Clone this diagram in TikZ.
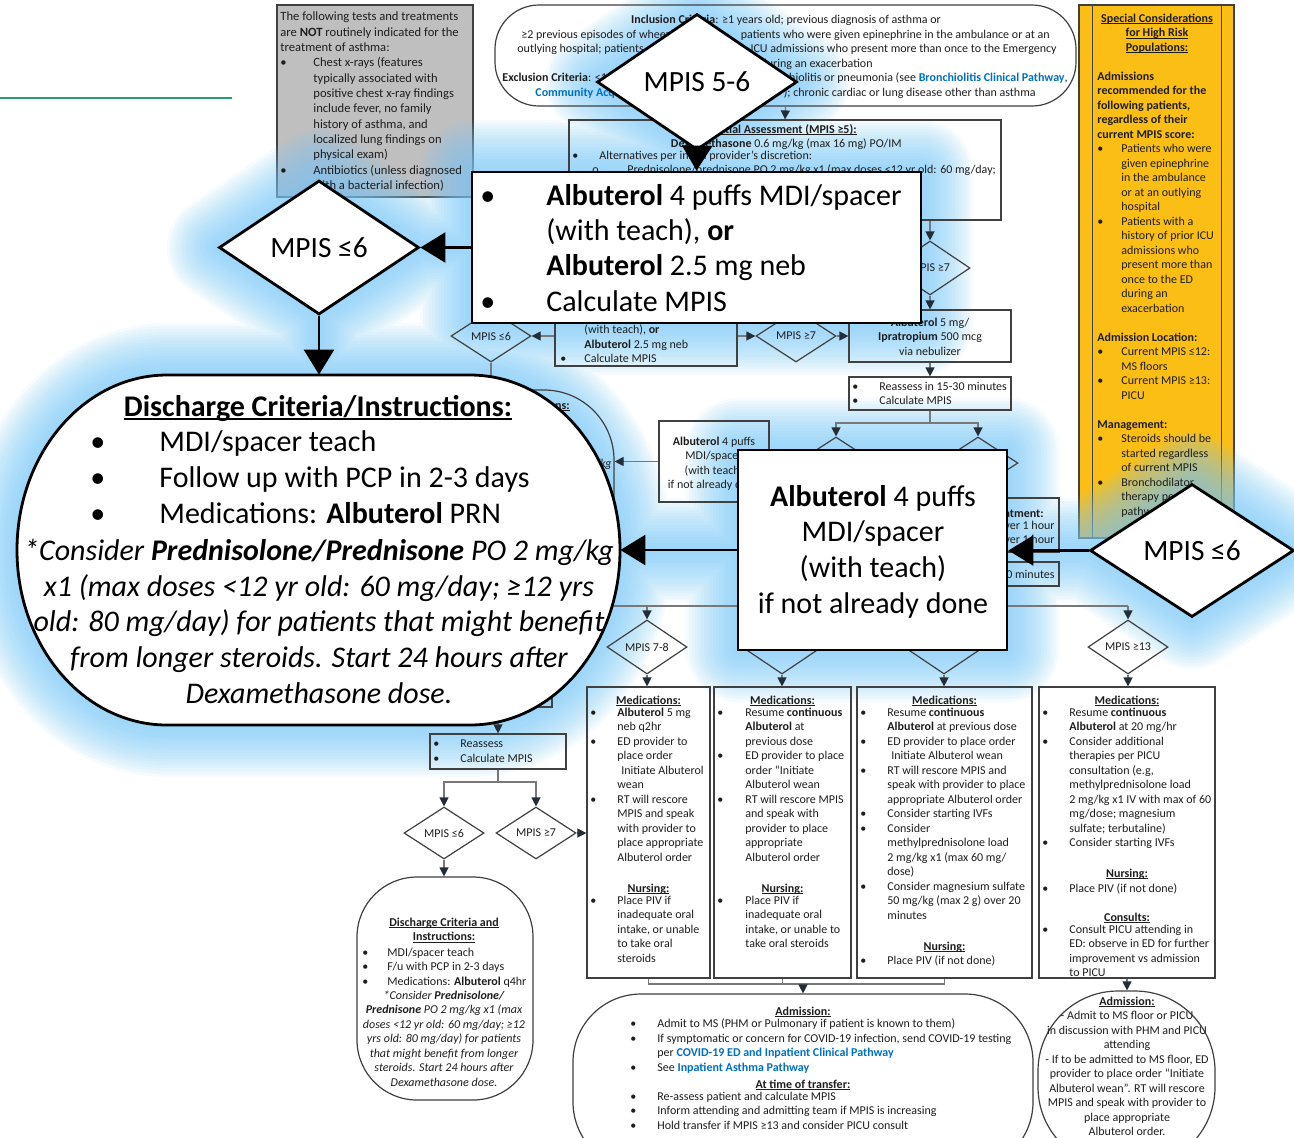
\documentclass[tikz,border=0pt]{standalone}
\usepackage{fontspec}
\setmainfont{Carlito}
\usetikzlibrary{arrows.meta,shapes.geometric}

\definecolor{txt}{RGB}{30,30,30}
\definecolor{linkc}{RGB}{0,112,192}
\definecolor{yel}{RGB}{251,190,20}
\definecolor{grayfill}{RGB}{191,191,191}
\definecolor{edgec}{RGB}{64,64,64}
\definecolor{lc}{RGB}{120,120,120}
\definecolor{ac}{RGB}{35,45,55}
\definecolor{glowc}{RGB}{125,205,250}
\definecolor{grn}{RGB}{40,160,110}

\newlength\bw
\setlength\bw{13.5pt}
\newcommand\bul{\makebox[\bw][l]{\textbullet}}
\newcommand\cont{\hspace*{\bw}}
\newsavebox\ubox
\newcommand\undl[1]{\sbox\ubox{#1}\rlap{\rule[-0.13em]{\wd\ubox}{0.065em}}\usebox\ubox}

% outline of the large discharge terminal
\def\dispath{(167,375) -- (470,375)
  arc[start angle=90,end angle=0,x radius=75pt,y radius=87.5pt]
  arc[start angle=0,end angle=-90,x radius=75pt,y radius=87.5pt] -- (167,725)
  arc[start angle=270,end angle=180,x radius=75pt,y radius=87.5pt]
  arc[start angle=180,end angle=90,x radius=75pt,y radius=87.5pt] -- cycle}
% everything that carries the blue halo
\def\glowpath{(597,82) -- (697,14) -- (797,82) -- (697,150) -- cycle
  (472,172) rectangle (921,323)
  (219,247.5) -- (319,180.5) -- (419,247.5) -- (319,314.5) -- cycle
  \dispath
  (738,450) rectangle (1007,650)
  (1090,550.5) -- (1192,484) -- (1294,550.5) -- (1192,617) -- cycle
  (697,150) -- (697,172) (419,247.5) -- (472,247.5) (319,314.5) -- (319,375)
  (620,550) -- (738,550) (1007,550) -- (1090,550)}

\tikzset{
  wh/.style 2 args={minimum width=#1*0.5pt, minimum height=#2*0.5pt},
  bw/.code={\setlength\bw{#1}},
  sbox/.style={draw=edgec, line width=0.6pt, inner sep=0pt},
  sdia/.style={diamond, draw=edgec, line width=0.6pt, inner sep=0pt,
    font=\fontsize{6}{7.25}\selectfont, text=txt},
  stxt/.style={inner sep=0pt, font=\fontsize{6}{7.25}\selectfont, text=txt,
    execute at begin node=\strut, yshift=-1.25pt},
  tl/.style={stxt, anchor=north west, align=left},
  tc/.style={stxt, anchor=north, align=center},
  tr/.style={stxt, anchor=north east, align=right},
  itx/.style={font=\fontsize{6}{7.25}\selectfont\itshape},
  gtl/.style={tl, font=\fontsize{6.3}{7.68}\selectfont},
  conn/.style={draw=lc, line width=0.6pt, -{Triangle[length=4.5pt, width=4.5pt, color=ac]}},
  plain/.style={draw=lc, line width=0.6pt},
  bigbox/.style={draw=black, line width=1.4pt, fill=white, inner sep=0pt},
  bigdia/.style={diamond, draw=black, line width=1.4pt, fill=white, inner sep=0pt,
    font=\fontsize{14.7}{18}\selectfont},
  btxt/.style={inner sep=0pt, font=\fontsize{15}{18}\selectfont, execute at begin node=\strut,
    yshift=-3.5pt},
  btl/.style={btxt, anchor=north west, align=left},
  btc/.style={btxt, anchor=north, align=center},
  bigarrow/.style={draw=black, line width=1.2pt, -{Triangle[length=12.5pt, width=15pt]}},
}

\begin{document}
\begin{tikzpicture}[x=0.5pt, y=-0.5pt]
\useasboundingbox (0,0) rectangle (1294,1137);
\clip (0,0) rectangle (1294,1137);
\fill[white] (0,0) rectangle (1294,1137);

% filled side panels
\node[draw=edgec, line width=0.6pt, fill=grayfill, inner sep=0pt, wh={196}{192}] (nottx) at (375,101) {};
\node[draw=edgec, line width=0.6pt, fill=yel, inner sep=0pt, wh={155}{533}] (spec) at (1156.5,271.5) {};
\draw[edgec, line width=0.6pt] ([xshift=7pt]spec.north west) -- ([xshift=7pt]spec.south west);
\draw[edgec, line width=0.6pt] ([xshift=-6.5pt]spec.north east) -- ([xshift=-6.5pt]spec.south east);

% halo
\foreach \w in {52,49,46,43,40,37,34,31,28,25,22,19,16,13,10,7,4}{
  \path[fill=glowc, draw=glowc, line width=\w pt, line join=round, opacity=0.07] \glowpath;
}

\coordinate (g1) at (0,98);
\coordinate (g2) at (232,98);
\draw[grn, line width=0.8pt] (g1) -- (g2);

% ---------- pathway boxes ----------
\node[sbox, rounded corners=22pt, wh={581}{101}] (incl) at (785.5,55.5) {};
\node[sbox, wh={432}{100}] (init) at (785,170) {};
\node[sdia, wh={80}{54}] (d7a) at (930,268) {MPIS ≥7};
\node[sbox, wh={162}{52}] (albip) at (930,336) {};
\node[sbox, wh={162}{33}] (reas1) at (930,393.5) {};
\node[sbox, wh={182}{61}] (alb1) at (646,335.5) {};
\node[sdia, wh={80}{52}] (d6a) at (491,336) {MPIS ≤6};
\node[sdia, wh={80}{52}] (d7b) at (796,336) {MPIS ≥7};
\node[sdia, wh={80}{52}] (d6b) at (836,463) {};
\node[sdia, wh={80}{52}] (d7c) at (978,463) {};
\node[sbox, wh={110}{81}] (alb2) at (714,461.5) {};
\node[sbox, rounded corners=35pt, wh={234}{230}] (dis1) at (497,505) {};
\node[sbox, wh={162}{54}] (trt) at (978,525) {};
\node[sbox, wh={162}{24}] (reas3) at (978,574) {};
\node[sbox, wh={122}{67}] (tx1) at (491,673.5) {};
\node[sbox, wh={136}{35}] (reas2) at (498,751.5) {};
\node[sdia, wh={80}{52}] (d6c) at (444,833) {MPIS ≤6};
\node[sdia, wh={80}{52}] (d7d) at (536,833) {MPIS ≥7};
\node[sbox, rounded corners=30pt, wh={176}{223}] (dis2) at (445,988.5) {};
\node[sdia, wh={80}{54}] (d78) at (647,647) {MPIS 7-8};
\node[sdia, wh={80}{54}] (dm2) at (782,647) {};
\node[sdia, wh={80}{54}] (dm3) at (944,647) {};
\node[sdia, wh={80}{54}] (d13) at (1128,647) {MPIS ≥13};
\node[sbox, wh={123}{291}] (m1) at (648.5,832.5) {};
\node[sbox, wh={137}{291}] (m2) at (782.5,832.5) {};
\node[sbox, wh={175}{291}] (m3) at (944.5,832.5) {};
\node[sbox, wh={176}{291}] (m4) at (1127,832.5) {};
\node[sbox, rounded corners=34pt, wh={460}{176}] (adm1) at (803,1082) {};
\node[sbox, rounded corners=40pt, wh={177}{176}] (adm2) at (1126.5,1079) {};

% ---------- connectors ----------
\draw[conn] (incl.south) -- (init.north);
\draw[conn] (d7a.north |- init.south) -- (d7a.north);
\draw[conn] (d7a.south) -- (albip.north);
\draw[conn] (alb1.west |- d6a.east) -- (d6a.east);
\draw[conn] (alb1.east |- d7b.west) -- (d7b.west);
\draw[conn] (d7b.east) -- (albip.west);
\draw[conn] (albip.south) -- (reas1.north);
\coordinate (s1) at (930,423);
\draw[plain] (reas1.south) -- (s1);
\draw[conn] (s1) -| (d6b.north);
\draw[conn] (s1) -| (d7c.north);
\draw[conn] (d6b.west) -- (alb2.east |- d6b.west);
\draw[conn] (alb2.west) -- (alb2.west -| dis1.east);
\draw[conn] (d6a.south) -- (d6a.south |- dis1.north);
\draw[conn] (d7c.south) -- (trt.north);
\draw[conn] (trt.south) -- (reas3.north);
\coordinate (h1) at (560,606);
\coordinate (h2) at (1128,606);
\draw[plain] (reas3.south) -- (reas3.south |- h1);
\draw[plain] (h1) -- (h2);
\foreach \n in {d78,dm2,dm3,d13}{\draw[conn] (\n.north |- h1) -- (\n.north);}
\draw[conn] (d78.south) -- (d78.south |- m1.north);
\draw[conn] (dm2.south) -- (dm2.south |- m2.north);
\draw[conn] (dm3.south) -- (dm3.south |- m3.north);
\draw[conn] (d13.south) -- (d13.south |- m4.north);
\draw[conn] (reas2.north |- tx1.south) -- (reas2.north);
\coordinate (s2) at (498,782);
\draw[plain] (reas2.south) -- (s2);
\draw[conn] (s2) -| (d6c.north);
\draw[conn] (s2) -| (d7d.north);
\draw[conn] (d6c.south) -- (d6c.south |- dis2.north);
\draw[conn] (d7d.east) -- (d7d.east -| m1.west);
\coordinate (j1) at (803,984);
\draw[plain] (m1.south) -- (m1.south |- j1) -- (m3.south |- j1) -- (m3.south);
\draw[plain] (m2.south) -- (m2.south |- j1);
\draw[conn] (j1) -- (adm1.north);
\draw[conn] (m4.south) -- (m4.south |- adm2.north);

% ---------- texts ----------
\node[gtl, bw=16.5pt] (tgray) at (280,9) {The following tests and treatments\\
are \textbf{NOT} routinely indicated for the\\
treatment of asthma:\\
\bul Chest x-rays (features\\
\cont typically associated with\\
\cont positive chest x-ray findings\\
\cont include fever, no family\\
\cont history of asthma, and\\
\cont localized lung findings on\\
\cont physical exam)\\
\bul Antibiotics (unless diagnosed\\
\cont with a bacterial infection)};

\node[tc] (ti1) at (786,10) {\textbf{Inclusion Criteria}: ≥1 years old; previous diagnosis of asthma or};
\node[tl] (ti2) at (521,25) {≥2 previous episodes of wheezing;};
\node[tr] (ti3) at (1050,25) {patients who were given epinephrine in the ambulance or at an};
\node[tl] (ti4) at (517,39) {outlying hospital; patients};
\node[tr] (ti5) at (1057,39) {ICU admissions who present more than once to the Emergency};
\node[tr] (ti6) at (873,54) {Department during an exacerbation};
\node[tl] (ti7) at (502,68) {\textbf{Exclusion Criteria}: <1 year old};
\node[tr] (ti8) at (1068,68) {bronchiolitis or pneumonia (see \textcolor{linkc}{\textbf{Bronchiolitis Clinical Pathway}},};
\node[tl] (ti9) at (535,83) {\textcolor{linkc}{\textbf{Community Acquired}}};
\node[tr] (ti10) at (1036,83) {); chronic cardiac or lung disease other than asthma};

\node[tr] (ta1) at (857,120) {\undl{\textbf{Initial Assessment (MPIS ≥5):}}};
\node[tr] (ta2) at (902,134) {\textbf{Dexamethasone} 0.6 mg/kg (max 16 mg) PO/IM};
\node[tl] (ta3) at (572,148) {\bul Alternatives per initial provider’s discretion:\\
\makebox[27.5pt][l]{\hspace{10pt}o}Prednisolone/prednisone PO 2 mg/kg x1 (max doses <12 yr old: 60 mg/day;};

\node[tl, bw=12pt] (tb1) at (560,322) {\cont (with teach), \textbf{or}\\
\cont\textbf{Albuterol} 2.5 mg neb\\
\bul Calculate MPIS};
\node[tc] (tb2) at (930,315) {\textbf{Albuterol} 5 mg/\\ \textbf{Ipratropium} 500 mcg\\ via nebulizer};
\node[tl] (tb3) at (852,379) {\bul Reassess in 15-30 minutes\\ \bul Calculate MPIS};
\node[tc] (tb4) at (714,434) {\textbf{Albuterol} 4 puffs\\ MDI/spacer\\ (with teach)\\ if not already done};
\node[tr] (tb5) at (1044,504) {\textbf{Treatment:}};
\node[tr] (tb6) at (1055,518) {over 1 hour\\ over 1 hour};
\node[tr] (tb7) at (1055,565) {15-30 minutes};
\node[tr] (tb8) at (570,396) {\undl{\textbf{Instructions:}}};
\node[tr, itx] (tb9) at (612,454) {PO 2 mg/kg};
\node[tl] (tb10) at (433,737) {\bul Reassess\\ \bul Calculate MPIS};

% medications column 1
\node[tc] (tm1a) at (648.5,691) {\undl{\textbf{Medications:}}};
\node[tl] (tm1b) at (590,705) {\bul\textbf{Albuterol} 5 mg\\
\cont neb q2hr\\
\bul ED provider to\\
\cont place order\\
\cont\hspace{2pt}Initiate Albuterol\\
\cont wean\\
\bul RT will rescore\\
\cont MPIS and speak\\
\cont with provider to\\
\cont place appropriate\\
\cont Albuterol order};
\node[tc] (tm1c) at (648.5,879) {\undl{\textbf{Nursing:}}};
\node[tl] (tm1d) at (590,893) {\bul Place PIV if\\ \cont inadequate oral\\ \cont intake, or unable\\ \cont to take oral\\ \cont steroids};

% medications column 2
\node[tc] (tm2a) at (782.5,691) {\undl{\textbf{Medications:}}};
\node[tl, bw=14pt] (tm2b) at (717,705) {\bul Resume \textbf{continuous}\\
\cont\textbf{Albuterol} at\\
\cont previous dose\\
\bul ED provider to place\\
\cont order “Initiate\\
\cont Albuterol wean\\
\bul RT will rescore MPIS\\
\cont and speak with\\
\cont provider to place\\
\cont appropriate\\
\cont Albuterol order};
\node[tc] (tm2c) at (782.5,879) {\undl{\textbf{Nursing:}}};
\node[tl, bw=14pt] (tm2d) at (717,893) {\bul Place PIV if\\ \cont inadequate oral\\ \cont intake, or unable to\\ \cont take oral steroids};

% medications column 3
\node[tc] (tm3a) at (944.5,691) {\undl{\textbf{Medications:}}};
\node[tl] (tm3b) at (860,705) {\bul Resume \textbf{continuous}\\
\cont\textbf{Albuterol} at previous dose\\
\bul ED provider to place order\\
\cont\hspace{2pt}Initiate Albuterol wean\\
\bul RT will rescore MPIS and\\
\cont speak with provider to place\\
\cont appropriate Albuterol order\\
\bul Consider starting IVFs\\
\bul Consider\\
\cont methylprednisolone load\\
\cont 2 mg/kg x1 (max 60 mg/\\
\cont dose)\\
\bul Consider magnesium sulfate\\
\cont 50 mg/kg (max 2 g) over 20\\
\cont minutes};
\node[tc] (tm3c) at (944.5,937) {\undl{\textbf{Nursing:}}};
\node[tl] (tm3d) at (860,951) {\bul Place PIV (if not done)};

% medications column 4
\node[tc] (tm4a) at (1127,691) {\undl{\textbf{Medications:}}};
\node[tl] (tm4b) at (1042,705) {\bul Resume \textbf{continuous}\\
\cont\textbf{Albuterol} at 20 mg/hr\\
\bul Consider additional\\
\cont therapies per PICU\\
\cont consultation (e.g,\\
\cont methylprednisolone load\\
\cont 2 mg/kg x1 IV with max of 60\\
\cont mg/dose; magnesium\\
\cont sulfate; terbutaline)\\
\bul Consider starting IVFs};
\node[tc] (tm4c) at (1127,864) {\undl{\textbf{Nursing:}}};
\node[tl] (tm4d) at (1042,879) {\bul Place PIV (if not done)};
\node[tc] (tm4e) at (1127,908) {\undl{\textbf{Consults:}}};
\node[tl] (tm4f) at (1042,922) {\bul Consult PICU attending in\\
\cont ED: observe in ED for further\\
\cont improvement vs admission\\
\cont to PICU};

% admissions
\node[tc] (tad1) at (803,1002) {\undl{\textbf{Admission:}}};
\node[tl] (tad2) at (630,1016) {\bul Admit to MS (PHM or Pulmonary if patient is known to them)\\
\bul If symptomatic or concern for COVID-19 infection, send COVID-19 testing\\
\cont per \textcolor{linkc}{\textbf{COVID-19 ED and Inpatient Clinical Pathway}}\\
\bul See \textcolor{linkc}{\textbf{Inpatient Asthma Pathway}}};
\node[tc] (tad3) at (803,1075) {\undl{\textbf{At time of transfer:}}};
\node[tl] (tad4) at (630,1089) {\bul Re-assess patient and calculate MPIS\\
\bul Inform attending and admitting team if MPIS is increasing\\
\bul Hold transfer if MPIS ≥13 and consider PICU consult};
\node[tc] (tad5) at (1127,994) {\undl{\textbf{Admission:}}\\
- Admit to MS floor or PICU\\
in discussion with PHM and PICU\\
attending\\
- If to be admitted to MS floor, ED\\
provider to place order “Initiate\\
Albuterol wean”. RT will rescore\\
MPIS and speak with provider to\\
place appropriate\\
Albuterol order.};

% lower discharge
\node[tc] (td1) at (444,915) {\undl{\textbf{Discharge Criteria and}}\\ \undl{\textbf{Instructions:}}};
\node[tl, bw=12.5pt] (td2) at (362,945) {\bul MDI/spacer teach\\ \bul F/u with PCP in 2-3 days\\ \bul Medications: \textbf{Albuterol} q4hr};
\node[tc, itx] (td3) at (444,988) {*Consider \textbf{Prednisolone/}\\
\textbf{Prednisone} PO 2 mg/kg x1 (max\\
doses <12 yr old: 60 mg/day; ≥12\\
yrs old: 80 mg/day) for patients\\
that might benefit from longer\\
steroids. Start 24 hours after\\
Dexamethasone dose.};

% special considerations panel
\node[tc] (ts1) at (1157,11) {\undl{\textbf{Special Considerations}}\\ \undl{\textbf{for High Risk}}\\ \undl{\textbf{Populations:}}};
\node[tl, bw=12pt] (ts2) at (1097,69) {\textbf{Admissions}\\
\textbf{recommended for the}\\
\textbf{following patients,}\\
\textbf{regardless of their}\\
\textbf{current MPIS score:}\\
\bul Patients who were\\
\cont given epinephrine\\
\cont in the ambulance\\
\cont or at an outlying\\
\cont hospital\\
\bul Patients with a\\
\cont history of prior ICU\\
\cont admissions who\\
\cont present more than\\
\cont once to the ED\\
\cont during an\\
\cont exacerbation\\
\strut\\
\textbf{Admission Location:}\\
\bul Current MPIS ≤12:\\
\cont MS floors\\
\bul Current MPIS ≥13:\\
\cont PICU\\
\strut\\
\textbf{Management:}\\
\bul Steroids should be\\
\cont started regardless\\
\cont of current MPIS\\
\bul Bronchodilator\\
\cont therapy per\\
\cont pathway};

% ---------- highlighted steps ----------
\node[bigdia, wh={200}{136}] (D56) at (697,82) {MPIS 5-6};
\node[bigbox, wh={449}{151}] (B1) at (696.5,247.5) {};
\node[btl, bw=33pt, font=\fontsize{15}{17.7}\selectfont] (tB1) at (480,176.7) {\bul\textbf{Albuterol} 4 puffs MDI/spacer\\
\cont (with teach), \textbf{or}\\
\cont\textbf{Albuterol} 2.5 mg neb\\
\bul Calculate MPIS};
\node[bigdia, wh={200}{134}] (D6L) at (319,247.5) {MPIS ≤6};
\draw[draw=black, line width=1.4pt, fill=white] \dispath;
\node[inner sep=0pt, wh={603}{350}] (DIS) at (318.5,550) {};
\node[btc] (tD1) at (318,383.6) {\undl{\textbf{Discharge Criteria/Instructions:}}};
\node[btl, bw=34.5pt] (tD2) at (90,423.6) {\bul MDI/spacer teach\\ \bul Follow up with PCP in 2-3 days\\ \bul Medications: \textbf{Albuterol} PRN};
\node[btc, font=\fontsize{15}{17.9}\selectfont\itshape] (tD3) at (319,531.6) {*Consider \textbf{Prednisolone/Prednisone} PO 2 mg/kg\\
x1 (max doses <12 yr old: 60 mg/day; ≥12 yrs\\
old: 80 mg/day) for patients that might benefit\\
from longer steroids. Start 24 hours after\\
Dexamethasone dose.};
\node[bigbox, wh={269}{200}] (B2) at (872.5,550) {};
\node[btc, font=\fontsize{15}{17.85}\selectfont] (tB2) at (873,477.6) {\textbf{Albuterol} 4 puffs\\ MDI/spacer\\ (with teach)\\ if not already done};
\node[bigdia, wh={204}{133}] (D6R) at (1192,550.5) {MPIS ≤6};

\draw[bigarrow] (D56.south) -- (B1.north);
\draw[bigarrow] (B1.west |- D6L.east) -- (D6L.east);
\draw[bigarrow] (D6L.south) -- (D6L.south |- DIS.north);
\draw[bigarrow] (B2.west) -- (B2.west -| DIS.east);
\draw[bigarrow] (D6R.west) -- (D6R.west -| B2.east);
\end{tikzpicture}
\end{document}
